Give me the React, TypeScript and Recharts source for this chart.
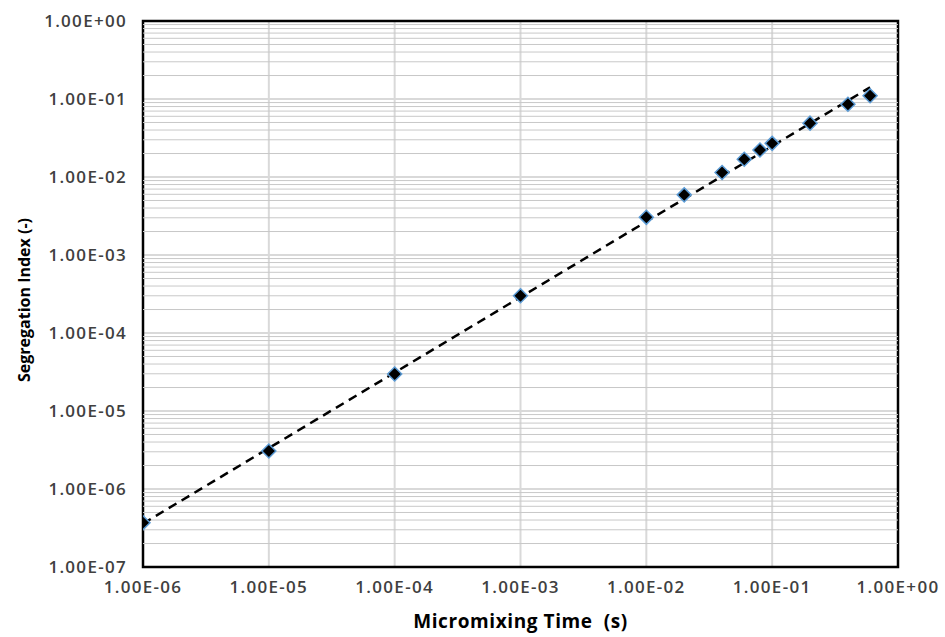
import {
  ScatterChart,
  Scatter,
  XAxis,
  YAxis,
  CartesianGrid,
  ReferenceLine,
  ReferenceArea,
  Label,
} from "recharts";

// tick positions (decades)
const xTicks = [1e-6, 1e-5, 1e-4, 1e-3, 1e-2, 1e-1, 1];
const yTicks = [1e-7, 1e-6, 1e-5, 1e-4, 1e-3, 1e-2, 1e-1, 1];
const minorFactors = [2, 3, 4, 5, 6, 7, 8, 9];

// measured points
const mixingTime = [
  1e-6, 1e-5, 1e-4, 1e-3, 1e-2, 2e-2, 4e-2, 6e-2, 8e-2, 1e-1, 2e-1, 4e-1, 6e-1,
];
const segregationIndex = [
  3.7e-7, 3.07e-6, 2.98e-5, 3.0e-4, 3.04e-3, 5.9e-3, 1.14e-2, 1.69e-2,
  2.22e-2, 2.7e-2, 4.9e-2, 8.55e-2, 1.1e-1,
];

// power-law trend line end points
const trendTime = [1e-6, 6e-1];
const trendIndex = [3.6e-7, 1.41e-1];

const points = mixingTime.map((t, i) => ({ t, s: segregationIndex[i] }));
const trend = trendTime.map((t, i) => ({ t, s: trendIndex[i] }));

const minorY = yTicks
  .slice(0, -1)
  .flatMap((d) => minorFactors.map((k) => k * d));

const FONT = "'Open Sans', 'Noto Sans', sans-serif";

function fmt(v: number) {
  const e = Math.round(Math.log10(v));
  const sign = e < 0 ? "-" : "+";
  return `1.00E${sign}${String(Math.abs(e)).padStart(2, "0")}`;
}

function Diamond(props: any) {
  const { cx, cy } = props;
  if (cx == null || cy == null) return <g />;
  const r = 7;
  return (
    <polygon
      points={`${cx},${cy - r} ${cx + r},${cy} ${cx},${cy + r} ${cx - r},${cy}`}
      fill="#000"
      stroke="#5b9bd5"
      strokeWidth={1.5}
    />
  );
}

const tickStyle = {
  fontFamily: FONT,
  fontSize: 17,
  fontWeight: 600,
  letterSpacing: 1.3,
  fill: "#404040",
};

export default function App() {
  return (
    <div style={{ position: "absolute", left: 0, top: 0 }}>
      <ScatterChart
        width={945}
        height={637}
        margin={{ top: 21, right: 47, left: 0, bottom: 0 }}
      >
        {minorY.map((v) => (
          <ReferenceLine
            key={`m-${v}`}
            y={v}
            stroke="#c8c8c8"
            strokeWidth={1}
          />
        ))}
        <CartesianGrid stroke="#d9d9d9" strokeWidth={2} />
        <XAxis
          type="number"
          dataKey="t"
          scale="log"
          domain={[1e-6, 1]}
          ticks={xTicks}
          allowDataOverflow
          tickFormatter={fmt}
          tick={tickStyle}
          tickLine={false}
          axisLine={false}
          tickSize={0}
          tickMargin={14}
          height={70}
        >
          <Label
            value={"Micromixing Time\u00a0\u00a0(s)"}
            position="insideBottom"
            offset={9}
            style={{
              fontFamily: FONT,
              fontSize: 19,
              fontWeight: 700,
              letterSpacing: 0.6,
              fill: "#000",
            }}
          />
        </XAxis>
        <YAxis
          type="number"
          dataKey="s"
          scale="log"
          domain={[1e-7, 1]}
          ticks={yTicks}
          allowDataOverflow
          tickFormatter={fmt}
          tick={tickStyle}
          tickLine={false}
          axisLine={false}
          tickSize={0}
          tickMargin={16}
          width={143}
        >
          <Label
            content={() => (
              <text
                x={24}
                y={300}
                transform="rotate(-90 24 300)"
                textAnchor="middle"
                dominantBaseline="central"
                style={{
                  fontFamily: FONT,
                  fontSize: 16,
                  fontWeight: 700,
                  fill: "#000",
                }}
              >
                Segregation Index (-)
              </text>
            )}
          />
        </YAxis>
        <Scatter
          data={trend}
          isAnimationActive={false}
          line={{ stroke: "#000", strokeWidth: 2.5, strokeDasharray: "9 6" }}
          shape={() => <g />}
          fill="#000"
        />
        <Scatter
          data={points}
          isAnimationActive={false}
          shape={<Diamond />}
          fill="#000"
        />
        <ReferenceArea
          x1={1e-6}
          x2={1}
          y1={1e-7}
          y2={1}
          fill="none"
          fillOpacity={0}
          stroke="#000"
          strokeWidth={2.5}
          ifOverflow="visible"
        />
      </ScatterChart>
    </div>
  );
}
